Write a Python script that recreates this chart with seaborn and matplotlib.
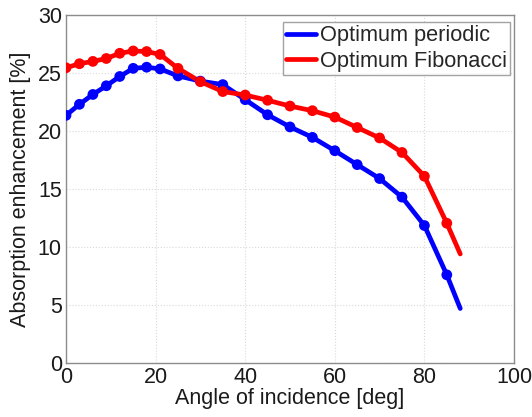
import numpy as np
import pandas as pd
import matplotlib
matplotlib.use('Agg')
import matplotlib.pyplot as plt
import seaborn as sns

# Angle samples (deg); last point (88) has no marker
angle = [0, 3, 6, 9, 12, 15, 18, 21, 25, 30, 35, 40, 45, 50, 55, 60, 65, 70, 75, 80, 85, 88]
periodic = [21.35, 22.3, 23.15, 23.9, 24.7, 25.4, 25.5, 25.35, 24.75, 24.3, 24.0, 22.7,
            21.4, 20.35, 19.45, 18.3, 17.1, 15.9, 14.3, 11.85, 7.6, 4.7]
fibonacci = [25.45, 25.8, 26.0, 26.25, 26.7, 26.9, 26.85, 26.6, 25.4, 24.25, 23.4, 23.1,
             22.65, 22.15, 21.75, 21.2, 20.3, 19.4, 18.15, 16.1, 12.05, 9.4]
names = ['Optimum periodic', 'Optimum Fibonacci']
colors = ['#0000ff', '#ff0000']

df = pd.DataFrame({
    'angle': angle * 2,
    'value': periodic + fibonacci,
    'series': [names[0]] * len(angle) + [names[1]] * len(angle),
})
marks = df[df['angle'] < 88]

sns.set_style('white')
plt.rcParams['font.family'] = ['Liberation Sans', 'DejaVu Sans']

fig = plt.figure(figsize=(5.32, 4.17), dpi=100)
ax = fig.add_axes([66 / 532, 1 - 363 / 417, (514 - 66) / 532, (363 - 15) / 417])

sns.lineplot(data=df, x='angle', y='value', hue='series', palette=colors,
             linewidth=3.4, ax=ax)
sns.scatterplot(data=marks, x='angle', y='value', hue='series', palette=colors,
                s=60, edgecolor='none', legend=False, ax=ax, zorder=3)

ax.set_xlim(0, 100)
ax.set_ylim(0, 30)
ax.set_xticks(np.arange(0, 101, 20))
ax.set_yticks(np.arange(0, 31, 5))
ax.grid(True, color='#d9d9d9', linestyle=':', linewidth=0.8)
for s in ax.spines.values():
    s.set_color('#8c8c8c')
    s.set_linewidth(1.0)
ax.tick_params(direction='in', length=4, color='#8c8c8c', labelsize=15.5, pad=3,
               labelcolor='#1a1a1a')
ax.set_xlabel('Angle of incidence [deg]', fontsize=15.5, labelpad=0, color='#1a1a1a')
ax.set_ylabel('Absorption enhancement [%]', fontsize=15.5, labelpad=5, color='#1a1a1a')

handles, labels = ax.get_legend_handles_labels()
leg = ax.legend(handles, labels, loc='upper right', fontsize=15.7, frameon=True,
                fancybox=False, handlelength=1.4, handletextpad=0.15,
                borderpad=0.15, labelspacing=0.2, borderaxespad=0,
                bbox_to_anchor=(510 / 532, 1 - 22 / 417), bbox_transform=fig.transFigure)
leg.get_frame().set_edgecolor('#8c8c8c')
leg.get_frame().set_linewidth(1.0)

fig.savefig('out.png', dpi=100)
